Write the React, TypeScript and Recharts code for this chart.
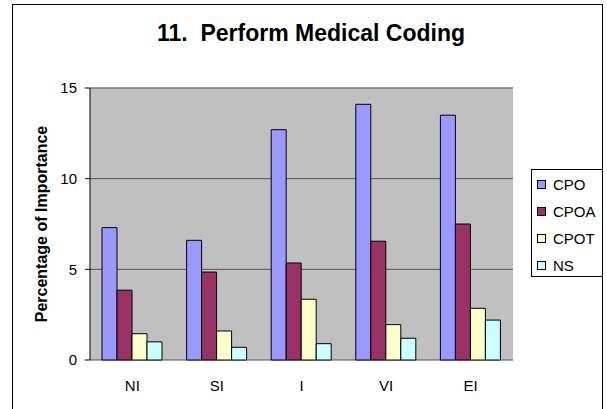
import * as React from 'react'
import { Bar, BarChart, CartesianGrid, Legend, ReferenceLine, XAxis, YAxis } from 'recharts'

const categories = ['NI', 'SI', 'I', 'VI', 'EI']
const cpo = [7.3, 6.6, 12.7, 14.1, 13.5]
const cpoa = [3.85, 4.85, 5.35, 6.55, 7.5]
const cpot = [1.45, 1.6, 3.35, 1.95, 2.85]
const ns = [1.0, 0.7, 0.9, 1.2, 2.2]
const yTicks = [0, 5, 10, 15]
const edgeTicks = [0, 1, 2, 3, 4, 5]

const series = [
  { key: 'CPO', values: cpo, color: '#9999FF' },
  { key: 'CPOA', values: cpoa, color: '#993366' },
  { key: 'CPOT', values: cpot, color: '#FFFFCC' },
  { key: 'NS', values: ns, color: '#CCFFFF' },
]

const data = categories.map((c, i) => {
  const row: Record<string, string | number> = { cat: c }
  series.forEach((s) => (row[s.key] = s.values[i]))
  return row
})

const FONT = '"Liberation Sans", Arial, sans-serif'

function LegendBox({ payload }: any) {
  return (
    <div
      style={{
        width: 72,
        height: 108,
        boxSizing: 'border-box',
        border: '1px solid #000',
        background: '#fff',
        paddingTop: 1,
        fontFamily: FONT,
        fontSize: 15,
      }}
    >
      {(payload || []).map((p: any) => (
        <div key={p.value} style={{ height: 27, display: 'flex', alignItems: 'center' }}>
          <span
            style={{
              width: 7,
              height: 7,
              marginLeft: 5,
              marginRight: 7,
              border: '1px solid #000',
              background: p.color,
            }}
          />
          <span>{p.value}</span>
        </div>
      ))}
    </div>
  )
}

function YLabel(props: any) {
  const vb = props.viewBox
  const cy = vb.y + vb.height / 2
  return (
    <text
      x={41}
      y={cy}
      transform={`rotate(-90 41 ${cy})`}
      textAnchor="middle"
      dominantBaseline="central"
      fontFamily={FONT}
      fontSize={16}
      fontWeight="bold"
      fill="#000"
    >
      Percentage of Importance
    </text>
  )
}

export default function App() {
  return (
    <div style={{ position: 'relative', width: 607, height: 409, overflow: 'hidden', background: '#fff' }}>
      <style>{'body{margin:0}'}</style>
      <div
        style={{
          position: 'absolute',
          left: 12,
          top: 4,
          width: 589,
          height: 440,
          border: '1px solid #000',
        }}
      />
      <div
        style={{
          position: 'absolute',
          left: 16,
          top: 22,
          width: 590,
          textAlign: 'center',
          fontFamily: FONT,
          fontSize: 23,
          lineHeight: '23px',
          fontWeight: 'bold',
          whiteSpace: 'pre',
        }}
      >
        {'11.  Perform Medical Coding'}
      </div>
      <div style={{ position: 'absolute', left: 0, top: 0 }}>
        <BarChart
          width={607}
          height={409}
          data={data}
          margin={{ top: 88, right: 94, bottom: 19, left: 50 }}
          barCategoryGap={12}
          barGap={0}
        >
          <CartesianGrid xAxisId="cat" vertical={false} stroke="#555" fill="#C0C0C0" />
          <XAxis
            xAxisId="edge"
            type="number"
            domain={[0, 5]}
            ticks={edgeTicks}
            tick={false}
            tickSize={5}
            height={0}
            axisLine={{ stroke: '#000' }}
            tickLine={{ stroke: '#000' }}
          />
          <XAxis
            xAxisId="cat"
            dataKey="cat"
            height={30}
            axisLine={false}
            tickLine={false}
            tickSize={0}
            tickMargin={20}
            tick={{ fontSize: 15, fill: '#000', fontFamily: FONT }}
          />
          <YAxis
            domain={[0, 15]}
            ticks={yTicks}
            width={40}
            tickSize={5}
            tickMargin={8}
            axisLine={{ stroke: '#000' }}
            tickLine={{ stroke: '#000' }}
            tick={{ fontSize: 15, fill: '#000', fontFamily: FONT }}
            label={{ value: 'Percentage of Importance', content: YLabel }}
          />
          <ReferenceLine y={15} xAxisId="cat" stroke="#888" />
          <ReferenceLine x={5} xAxisId="edge" stroke="#888" />
          {series.map((s) => (
            <Bar
              key={s.key}
              dataKey={s.key}
              name={s.key}
              xAxisId="cat"
              fill={s.color}
              stroke="#000"
              strokeWidth={1}
              isAnimationActive={false}
            />
          ))}
          <Legend
            layout="vertical"
            align="center"
            verticalAlign="middle"
            content={<LegendBox />}
            wrapperStyle={{ position: 'absolute', left: 531, top: 169, width: 72, height: 108 }}
          />
        </BarChart>
      </div>
    </div>
  )
}
